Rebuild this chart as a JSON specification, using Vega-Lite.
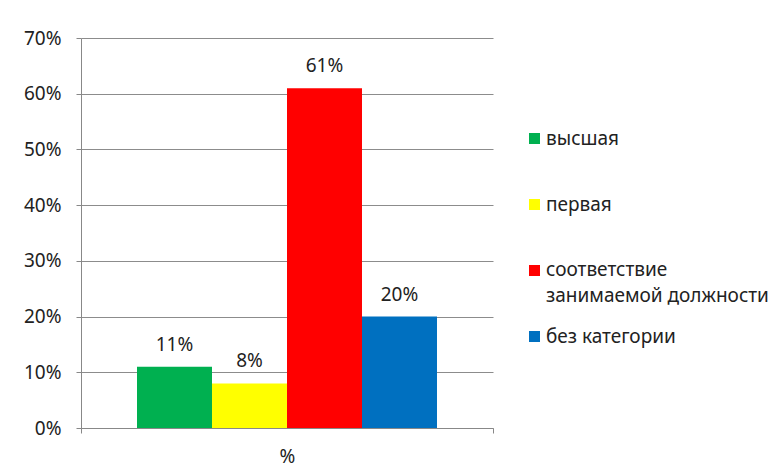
{
  "$schema": "https://vega.github.io/schema/vega-lite/v6.json",
  "width": 412,
  "height": 390,
  "autosize": {"type": "none"},
  "padding": {"left": 81, "top": 38, "right": 286, "bottom": 45},
  "background": "white",
  "config": {
    "view": {"stroke": null},
    "font": "Noto Sans",
    "axis": {"labelFont": "Noto Sans", "labelColor": "#222222", "domainColor": "#888888", "tickColor": "#888888", "gridColor": "#8c8c8c"},
    "legend": {"labelFont": "Noto Sans"}
  },
  "data": {
    "values": [
      {"group": "%", "category": "высшая", "value": 0.11},
      {"group": "%", "category": "первая", "value": 0.08},
      {"group": "%", "category": "соответствие занимаемой должности", "value": 0.61},
      {"group": "%", "category": "без категории", "value": 0.20}
    ]
  },
  "encoding": {
    "x": {
      "field": "group",
      "type": "nominal",
      "scale": {"paddingInner": 0, "paddingOuter": 0},
      "axis": {"title": null, "labelAngle": 0, "tickBand": "extent", "tickSize": 5, "labelPadding": 14, "labelFontSize": 19, "domainWidth": 1}
    },
    "xOffset": {
      "field": "category",
      "type": "nominal",
      "scale": {"domain": ["высшая", "первая", "соответствие занимаемой должности", "без категории"], "paddingInner": 0, "paddingOuter": 0.7467}
    },
    "y": {
      "field": "value",
      "type": "quantitative",
      "scale": {"domain": [0, 0.7]},
      "axis": {"title": null, "values": [0, 0.1, 0.2, 0.3, 0.4, 0.5, 0.6, 0.7], "format": ".0%", "tickSize": 5, "labelPadding": 15, "labelFontSize": 19, "grid": true}
    }
  },
  "layer": [
    {
      "mark": {"type": "bar"},
      "encoding": {
        "color": {
          "field": "category",
          "type": "nominal",
          "scale": {"domain": ["высшая", "первая", "соответствие занимаемой должности", "без категории"], "range": ["#00B050", "#FFFF00", "#FF0000", "#0070C0"]},
          "legend": {
            "title": null,
            "orient": "none",
            "legendX": 444,
            "legendY": 91,
            "padding": 0,
            "gridAlign": "all",
            "symbolType": "square",
            "symbolSize": 121,
            "symbolStrokeWidth": 0,
            "symbolOffset": 0,
            "labelOffset": 2,
            "labelFontSize": 19,
            "labelColor": "#222222",
            "labelLimit": 400,
            "rowPadding": 20,
            "labelExpr": "datum.label == 'соответствие занимаемой должности' ? ['соответствие', 'занимаемой должности'] : datum.label",
            "encoding": {
              "labels": {
                "lineHeight": {"value": 26},
                "dy": {"condition": {"test": "datum.value == 'соответствие занимаемой должности'", "value": -1}, "value": 0}
              }
            }
          }
        }
      }
    },
    {
      "mark": {"type": "text", "baseline": "bottom", "dy": -12, "fontSize": 19, "color": "#222222"},
      "encoding": {"text": {"field": "value", "type": "quantitative", "format": ".0%"}}
    }
  ]
}
